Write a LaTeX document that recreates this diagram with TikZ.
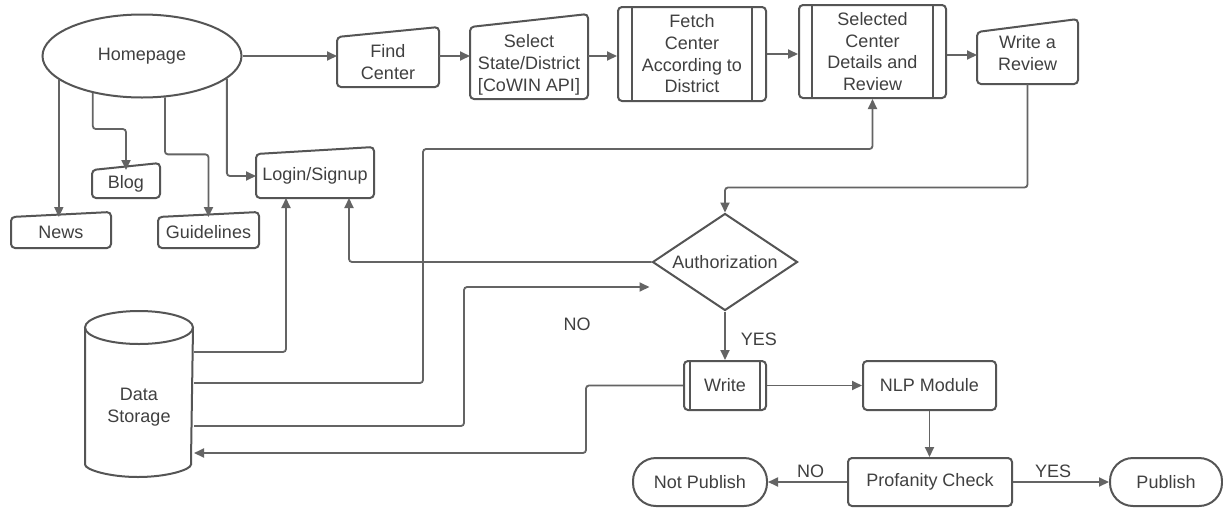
\documentclass[tikz,border=0pt]{standalone}
\usepackage{fontspec}
\setmainfont{Liberation Sans}
\usetikzlibrary{arrows.meta,calc,shapes.geometric}
\definecolor{boxc}{RGB}{85,85,85}
\definecolor{linec}{RGB}{100,100,100}
\definecolor{txtc}{RGB}{64,64,64}
\newcommand\miout[2]{\draw[boxline] (#1.south west) -- (#1.north west) -- ($(#1.north east)+(0,-#2)$) -- (#1.south east) -- cycle;}
\newcommand\ppout[2]{\draw[boxline] ($(#1.north west)+(#2,0)$) -- ($(#1.south west)+(#2,0)$); \draw[boxline] ($(#1.north east)+(-#2,0)$) -- ($(#1.south east)+(-#2,0)$);}
\begin{document}
\begin{tikzpicture}[x=1pt,y=-1pt,
  every node/.style={font=\fontsize{18pt}{21.7pt}\selectfont, text=txtc},
  txt/.style={align=center, inner sep=0pt, outer sep=1pt},
  plain/.style={txt, draw=boxc, line width=2pt, rounded corners=4pt},
  boxline/.style={draw=boxc, line width=2pt, rounded corners=4pt},
  conn/.style={draw=linec, line width=1.8pt, rounded corners=3pt, -{Triangle[length=10pt,width=9pt]}},
  lbl/.style={inner sep=0pt}]
\fill[white] (0,0) rectangle (1223,507);
\useasboundingbox (0,0) rectangle (1223,507);

% nodes
\node[txt, ellipse, draw=boxc, line width=2pt, minimum width=199pt, minimum height=83pt] (home) at (142,56) {Homepage};
\node[txt, minimum width=100pt, minimum height=48pt] (find) at (388,62) {Find\\Center};
\node[txt, minimum width=116pt, minimum height=70pt, text depth=-2pt] (sel) at (529,63) {Select\\State/District\\{[}CoWIN API{]}};
\node[plain, minimum width=148pt, minimum height=94pt] (fetch) at (692,54) {Fetch\\Center\\According to\\District};
\node[plain, minimum width=147pt, minimum height=93pt] (sel2) at (872.5,51.5) {Selected\\Center\\Details and\\Review};
\node[txt, minimum width=99pt, minimum height=50pt, text depth=10pt] (wrev) at (1027.5,58) {Write a\\Review};
\node[txt, minimum width=98pt, minimum height=29pt] (news) at (61,232.5) {News};
\node[txt, minimum width=66pt, minimum height=26pt] (blog) at (126,184) {Blog};
\node[txt, minimum width=99pt, minimum height=29pt] (guide) at (208.5,232.5) {Guidelines};
\node[txt, minimum width=116pt, minimum height=42pt] (login) at (315,176) {Login/Signup};
\node[txt, diamond, aspect=1.6, draw=boxc, line width=2pt, minimum width=145pt, minimum height=97pt] (auth) at (725,262) {Authorization};
\node[txt, minimum width=108pt, minimum height=138pt] (ds) at (139,407) {Data\\Storage};
\node[plain, minimum width=82pt, minimum height=49pt] (write) at (725,385.5) {Write};
\node[plain, minimum width=133pt, minimum height=49pt] (nlp) at (929.5,385.5) {NLP Module};
\node[plain, minimum width=164pt, minimum height=48pt] (prof) at (930,482) {Profanity Check};
\node[txt, draw=boxc, line width=2pt, rounded corners=23pt, minimum width=134pt, minimum height=48pt] (notpub) at (700,482) {Not Publish};
\node[txt, draw=boxc, line width=2pt, rounded corners=23pt, minimum width=112pt, minimum height=48pt] (pub) at (1166,482) {Publish};
\node[lbl] (no1) at (577,324) {NO};

% outlines
\miout{find}{10}
\miout{sel}{13}
\miout{wrev}{13}
\miout{news}{5}
\miout{blog}{7}
\miout{guide}{5}
\miout{login}{7}
\ppout{fetch}{15}
\ppout{sel2}{14}
\ppout{write}{7}
\draw[boxline] ($(ds.north)+(0,-9.5)$) ellipse [x radius=54, y radius=16.5];
\draw[boxline] ($(ds.north west)+(1,-9.5)$) -- ($(ds.south west)+(1,-16.5)$) arc[start angle=180, end angle=0, x radius=53, y radius=16.5] -- ($(ds.north east)+(-1,-9.5)$);

% connectors
\draw[conn] (home.east) -- (home.east -| find.west);
\draw[conn] (find.east |- home.east) -- (home.east -| sel.west);
\draw[conn] (sel.east |- home.east) -- (home.east -| fetch.west);
\draw[conn] (fetch.east) -- (fetch.east -| sel2.west);
\draw[conn] ($(sel2.east)+(0,3.5)$) -- ($(sel2.east -| wrev.west)+(0,3.5)$);

\draw[conn] (home.196.5) -- (home.196.5 |- news.north);
\draw[conn] (home.217.2) -- ++(0,36) -| (blog.north);
\draw[conn] (home.299.7) -- ++(0,57) -| (guide.north);
\draw[conn] (home.345.2) |- (login.west);

\draw[conn] ($(ds.north east)+(0,15)$) -| ($(login.south)+(-29,0)$);
\draw[conn] ($(ds.north east)+(0,46)$) -- ++(229,0) |- ($(sel2.south)+(0,50)$) -- (sel2.south);
\draw[conn] ($(ds.north east)+(0,89)$) -- ++(270,0) |- ($(auth.west)+(-2,25)$);
\draw[conn] (write.west) -- ++(-97,0) |- ($(ds.north east)+(0,116)$);

\draw[conn] (wrev.south) |- ($(auth.north)+(0,-25)$) -- (auth.north);
\draw[conn] (auth.west) -| ($(login.south)+(34,0)$);
\draw[conn] (auth.south) -- (write.north) node[lbl, midway, right=15pt, yshift=-4pt] {YES};
\draw[conn] (write.east) -- (nlp.west);
\draw[conn] (nlp.south) -- (nlp.south |- prof.north);
\draw[conn] (prof.west) -- (notpub.east) node[lbl, midway, above=3pt, xshift=3pt] {NO};
\draw[conn] (prof.east) -- (pub.west) node[lbl, midway, above=3pt, xshift=-8pt] {YES};
\end{tikzpicture}
\end{document}
